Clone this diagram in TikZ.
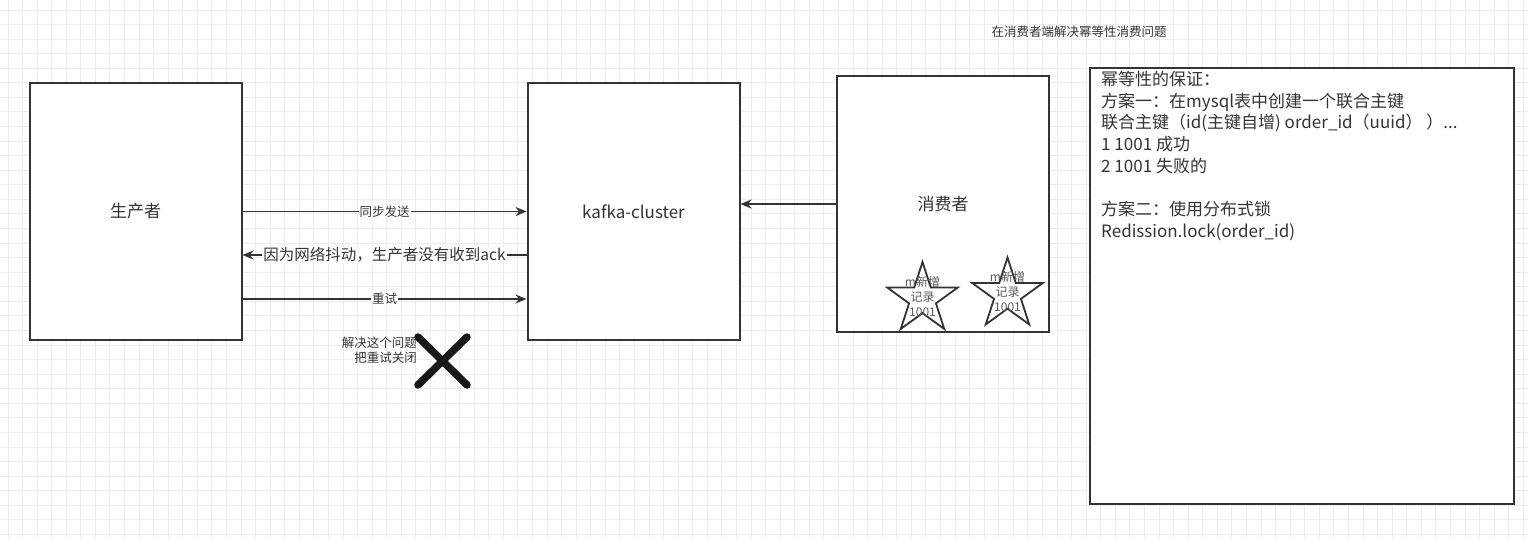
\documentclass[tikz,border=0pt]{standalone}
\usepackage{fontspec}
\setmainfont{Noto Sans CJK SC}
\usetikzlibrary{shapes.geometric, arrows.meta}
\definecolor{linegray}{HTML}{333333}
\definecolor{gridgray}{HTML}{EDEDED}
\tikzstyle{box} = [rectangle, minimum width=212pt, minimum height=257pt, draw=linegray, line width=2pt, fill=white, text=black!80, font=\fontsize{17}{20}\selectfont]
\tikzstyle{note} = [rectangle, minimum width=424pt, minimum height=436pt, draw=linegray, line width=2pt, fill=white]
\tikzstyle{notetext} = [anchor=north west, inner sep=0pt, align=left, text=black!80, font=\fontsize{17}{21.7}\selectfont]
\tikzstyle{arrow} = [draw=linegray, line width=1.6pt, -{Stealth[length=11pt,width=9pt]}]
\tikzstyle{msg} = [fill=white, inner sep=1pt, text=black!80, font=\fontsize{12.5}{15}\selectfont]
\tikzstyle{starmark} = [star, star points=5, star point ratio=2.618, minimum size=74pt, inner sep=0pt, draw=linegray, line width=1.8pt]
\tikzstyle{startext} = [align=center, inner sep=0pt, text=black!65, font=\fontsize{12}{15}\selectfont]
\tikzstyle{gridline} = [draw=gridgray, line width=0.8pt]
\tikzstyle{cross} = [draw=black!90, line width=7.5pt, line cap=round]

\begin{document}
\begin{tikzpicture}[x=1pt, y=-1pt]
\useasboundingbox (0,0) rectangle (1529,539);
\fill[white] (0,0) rectangle (1529,539);
% background grid
\foreach \i in {0,...,104} \draw[gridline] (7.9+\i*14.57,0) -- (7.9+\i*14.57,539);
\foreach \j in {0,...,36} \draw[gridline] (0,9.9+\j*14.57) -- (1529,9.9+\j*14.57);

\node (producer) [box] at (135.5,211.5) {生产者};
\node (kafka) [box] at (633.5,211.5) {kafka-cluster};
\node (consumer) [box, minimum height=256pt] at (943,204) {消费者};
\node (note) [note] at (1302,286) {};
\node (notebody) [notetext] at (1101,71) {幂等性的保证：\\方案一：在mysql表中创建一个联合主键\\联合主键（id(主键自增) order\_id（uuid）\ ）...\\1 1001 成功\\2 1001 失败的\\ \\方案二：使用分布式锁\\Redission.lock(order\_id)};
\node (title) [msg, fill=none] at (1079,32) {在消费者端解决幂等性消费问题};

\node (star1) [starmark] at (922.5,299) {};
\node (star1text) [startext] at (922.5,297) {m新增\\记录\\1001};
\node (star2) [starmark] at (1007.5,294.5) {};
\node (star2text) [startext] at (1007.5,292) {m新增\\记录\\1001};

\draw [arrow] (producer.east) -- node [msg] {同步发送} (kafka.west);
\draw [arrow] ([yshift=-43.5pt]kafka.west) -- node [msg, font=\fontsize{15.5}{18}\selectfont] {因为网络抖动，生产者没有收到ack} ([yshift=-43.5pt]producer.east);
\draw [arrow] ([yshift=-87.5pt]producer.east) -- node [msg] {重试} ([yshift=-87.5pt]kafka.west);
\draw [arrow] (consumer.west) -- (consumer.west -| kafka.east);

\node (fix) [msg, fill=none, align=right, anchor=east] at (418,350) {解决这个问题\\把重试关闭};
\draw [cross] (418,337) -- (467,385);
\draw [cross] (467,337) -- (418,385);

\end{tikzpicture}
\end{document}
